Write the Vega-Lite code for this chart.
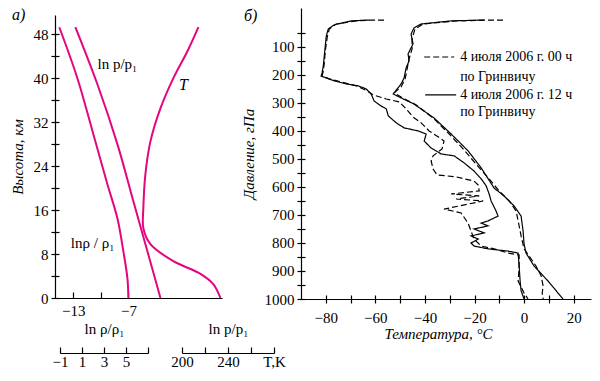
{
  "$schema": "https://vega.github.io/schema/vega-lite/v6.json",
  "padding": {"left": 10, "top": 7, "right": 5, "bottom": 5},
  "spacing": -45,
  "config": {
    "font": "Liberation Serif",
    "view": {"stroke": null},
    "axis": {"domainColor": "black", "tickColor": "black", "labelColor": "black", "titleColor": "black", "labelFontSize": 15, "titleFontSize": 15, "titleFontWeight": "normal", "titleFontStyle": "italic", "grid": false, "labelFont": "Liberation Serif", "titleFont": "Liberation Serif", "domainWidth": 1.2, "tickWidth": 1.2, "labelFlush": false},
    "title": {"font": "Liberation Serif", "fontSize": 16, "fontWeight": "normal", "fontStyle": "italic", "color": "black"}
  },
  "hconcat": [
    {
      "bounds": "flush",
      "spacing": 0,
      "vconcat": [
        {
          "width": 10,
          "height": 7,
          "data": {"values": [{"z": 0}]},
          "mark": {"type": "point", "opacity": 0},
          "encoding": {}
        },
        {
          "width": 167,
          "height": 283,
          "title": {"text": "а)", "anchor": "start", "frame": "group", "offset": 0, "dx": -43, "dy": 16, "baseline": "middle"},
          "layer": [
            {
              "data": {"values": [
                {"c": "rho", "x": -14.53, "h": 49.27}, {"c": "rho", "x": -12.56, "h": 40.0}, {"c": "rho", "x": -10.82, "h": 29.8}, {"c": "rho", "x": -9.29, "h": 20.7}, {"c": "rho", "x": -8.2, "h": 14.5}, {"c": "rho", "x": -7.55, "h": 8.5}, {"c": "rho", "x": -7.11, "h": 3.6}, {"c": "rho", "x": -7.0, "h": 0},
                {"c": "p", "x": -12.78, "h": 49.3}, {"c": "p", "x": -10.38, "h": 38.9}, {"c": "p", "x": -8.2, "h": 28.0}, {"c": "p", "x": -6.46, "h": 17.6}, {"c": "p", "x": -4.93, "h": 8.5}, {"c": "p", "x": -3.51, "h": 0},
                {"c": "T", "x": 0.63, "h": 49.3}, {"c": "T", "x": -0.57, "h": 44.9}, {"c": "T", "x": -2.1, "h": 40.0}, {"c": "T", "x": -3.51, "h": 34.5}, {"c": "T", "x": -4.6, "h": 28.5}, {"c": "T", "x": -5.15, "h": 22.5}, {"c": "T", "x": -5.37, "h": 16.4}, {"c": "T", "x": -5.37, "h": 12.7}, {"c": "T", "x": -4.6, "h": 9.8}, {"c": "T", "x": -2.1, "h": 6.7}, {"c": "T", "x": 0.85, "h": 4.4}, {"c": "T", "x": 2.27, "h": 2.5}, {"c": "T", "x": 3.03, "h": 0}
              ]},
              "mark": {"type": "line", "color": "#e4067e", "strokeWidth": 2, "interpolate": "catmull-rom"},
              "encoding": {
                "x": {"field": "x", "type": "quantitative", "scale": {"domain": [-15, 3.2], "nice": false, "zero": false},
                      "axis": {"orient": "bottom", "values": [-13, -10, -7], "labelExpr": "datum.value == -10 ? '' : datum.label", "tickSize": -6, "labelPadding": 11, "title": null}},
                "y": {"field": "h", "type": "quantitative", "scale": {"domain": [0, 51.5], "nice": false, "zero": false},
                      "axis": {"orient": "left", "values": [0, 4, 8, 12, 16, 20, 24, 28, 32, 36, 40, 44, 48], "labelExpr": "datum.value % 8 == 0 ? datum.label : ''", "tickSize": 4, "labelPadding": 3, "title": "Высота,  км", "titlePadding": 8}},
                "detail": {"field": "c"},
                "order": {"value": null}
              }
            },
            {
              "data": {"values": [
                {"label": "ln p/p₁", "x": -8.2, "h": 42.5},
                {"label": "lnρ / ρ₁", "x": -10.9, "h": 10.0}
              ]},
              "mark": {"type": "text", "fontSize": 15, "color": "black", "font": "Liberation Serif"},
              "encoding": {
                "x": {"field": "x", "type": "quantitative", "axis": null},
                "y": {"field": "h", "type": "quantitative",
                      "axis": {"orient": "left", "values": [0, 4, 8, 12, 16, 20, 24, 28, 32, 36, 40, 44, 48], "tickSize": -4, "labels": false, "domain": false, "title": null}},
                "text": {"field": "label"}
              }
            },
            {
              "data": {"values": [
                {"label": "T", "x": -1.0, "h": 38.7}
              ]},
              "mark": {"type": "text", "fontSize": 16, "fontStyle": "italic", "color": "black", "font": "Liberation Serif"},
              "encoding": {
                "x": {"field": "x", "type": "quantitative", "axis": null},
                "y": {"field": "h", "type": "quantitative", "axis": null},
                "text": {"field": "label"}
              }
            }
          ],
          "resolve": {"axis": {"x": "independent", "y": "independent"}}
        },
        {
          "bounds": "flush",
          "spacing": 39,
          "hconcat": [
            {
              "width": 88,
              "height": 55,
              "data": {"values": [{"v": -1}, {"v": 7}]},
              "mark": {"type": "point", "opacity": 0},
              "encoding": {
                "x": {"field": "v", "type": "quantitative", "scale": {"domain": [-1, 7], "nice": false, "zero": false},
                      "axis": {"orient": "bottom", "position": 5, "values": [-1, 1, 3, 5, 7], "labelExpr": "datum.value == 7 ? '' : datum.label", "tickSize": -6, "labelPadding": 7, "title": "ln ρ/ρ₁", "titleFontStyle": "normal", "titleY": -20, "titleBaseline": "alphabetic"}}
              }
            },
            {
              "width": 92,
              "height": 55,
              "data": {"values": [{"k": 200}, {"k": 280}]},
              "mark": {"type": "point", "opacity": 0},
              "encoding": {
                "x": {"field": "k", "type": "quantitative", "scale": {"domain": [200, 280], "nice": false, "zero": false},
                      "axis": {"orient": "bottom", "values": [200, 220, 240, 260, 280], "labelExpr": "datum.value == 280 ? 'T,K' : ((datum.value == 220 || datum.value == 260) ? '' : datum.label)", "tickSize": -6, "labelPadding": 7, "title": "ln p/p₁", "titleFontStyle": "normal", "titleY": -20, "titleBaseline": "alphabetic"}}
              }
            }
          ]
        }
      ]
    },
    {
      "width": 290,
      "height": 291,
      "title": {"text": "б)", "anchor": "start", "frame": "group", "offset": 0, "dx": -57, "dy": 24, "baseline": "middle"},
      "layer": [
        {
          "data": {"values": [
            {"k": "T12", "s": "12", "t": -16.1, "p": 4}, {"k": "T12", "s": "12", "t": -29.4, "p": 7}, {"k": "T12", "s": "12", "t": -41.5, "p": 18}, {"k": "T12", "s": "12", "t": -44.4, "p": 32}, {"k": "T12", "s": "12", "t": -45.6, "p": 54}, {"k": "T12", "s": "12", "t": -44.8, "p": 89}, {"k": "T12", "s": "12", "t": -46.8, "p": 125}, {"k": "T12", "s": "12", "t": -46.4, "p": 150}, {"k": "T12", "s": "12", "t": -47.6, "p": 175}, {"k": "T12", "s": "12", "t": -48.4, "p": 211}, {"k": "T12", "s": "12", "t": -49.6, "p": 232}, {"k": "T12", "s": "12", "t": -52.8, "p": 268}, {"k": "T12", "s": "12", "t": -49.6, "p": 282}, {"k": "T12", "s": "12", "t": -44.4, "p": 304}, {"k": "T12", "s": "12", "t": -36.3, "p": 354}, {"k": "T12", "s": "12", "t": -29.4, "p": 411}, {"k": "T12", "s": "12", "t": -22.6, "p": 471}, {"k": "T12", "s": "12", "t": -17.3, "p": 532}, {"k": "T12", "s": "12", "t": -12.1, "p": 604}, {"k": "T12", "s": "12", "t": -8.1, "p": 632}, {"k": "T12", "s": "12", "t": -4.0, "p": 668}, {"k": "T12", "s": "12", "t": -1.2, "p": 704}, {"k": "T12", "s": "12", "t": -0.4, "p": 757}, {"k": "T12", "s": "12", "t": 0, "p": 804}, {"k": "T12", "s": "12", "t": 0.8, "p": 836}, {"k": "T12", "s": "12", "t": 4.0, "p": 882}, {"k": "T12", "s": "12", "t": 9.7, "p": 936}, {"k": "T12", "s": "12", "t": 15.7, "p": 1000},
            {"k": "T00", "s": "00", "t": -8.5, "p": 4}, {"k": "T00", "s": "00", "t": -14.1, "p": 4}, {"k": "T00", "s": "00", "t": -27.4, "p": 7}, {"k": "T00", "s": "00", "t": -40.7, "p": 18}, {"k": "T00", "s": "00", "t": -44.0, "p": 36}, {"k": "T00", "s": "00", "t": -45.2, "p": 71}, {"k": "T00", "s": "00", "t": -45.2, "p": 107}, {"k": "T00", "s": "00", "t": -46.4, "p": 143}, {"k": "T00", "s": "00", "t": -47.2, "p": 179}, {"k": "T00", "s": "00", "t": -48.0, "p": 214}, {"k": "T00", "s": "00", "t": -49.6, "p": 243}, {"k": "T00", "s": "00", "t": -52.4, "p": 264}, {"k": "T00", "s": "00", "t": -49.6, "p": 279}, {"k": "T00", "s": "00", "t": -43.5, "p": 307}, {"k": "T00", "s": "00", "t": -36.3, "p": 357}, {"k": "T00", "s": "00", "t": -30.2, "p": 411}, {"k": "T00", "s": "00", "t": -24.6, "p": 464}, {"k": "T00", "s": "00", "t": -19.4, "p": 518}, {"k": "T00", "s": "00", "t": -14.1, "p": 571}, {"k": "T00", "s": "00", "t": -10.1, "p": 614}, {"k": "T00", "s": "00", "t": -6.0, "p": 650}, {"k": "T00", "s": "00", "t": -3.2, "p": 686}, {"k": "T00", "s": "00", "t": -2.4, "p": 721}, {"k": "T00", "s": "00", "t": -1.2, "p": 775}, {"k": "T00", "s": "00", "t": 0, "p": 821}, {"k": "T00", "s": "00", "t": 2.0, "p": 846}, {"k": "T00", "s": "00", "t": 4.8, "p": 882}, {"k": "T00", "s": "00", "t": 6.9, "p": 918}, {"k": "T00", "s": "00", "t": 7.7, "p": 954}, {"k": "T00", "s": "00", "t": 7.3, "p": 979}, {"k": "T00", "s": "00", "t": 7.7, "p": 1000},
            {"k": "D12", "s": "12", "t": -62.5, "p": 4}, {"k": "D12", "s": "12", "t": -69.8, "p": 7}, {"k": "D12", "s": "12", "t": -76.6, "p": 21}, {"k": "D12", "s": "12", "t": -79.0, "p": 36}, {"k": "D12", "s": "12", "t": -79.8, "p": 61}, {"k": "D12", "s": "12", "t": -80.2, "p": 96}, {"k": "D12", "s": "12", "t": -80.6, "p": 132}, {"k": "D12", "s": "12", "t": -81.0, "p": 168}, {"k": "D12", "s": "12", "t": -81.5, "p": 193}, {"k": "D12", "s": "12", "t": -81.9, "p": 204}, {"k": "D12", "s": "12", "t": -76.6, "p": 221}, {"k": "D12", "s": "12", "t": -71.8, "p": 232}, {"k": "D12", "s": "12", "t": -66.9, "p": 239}, {"k": "D12", "s": "12", "t": -63.7, "p": 250}, {"k": "D12", "s": "12", "t": -61.7, "p": 268}, {"k": "D12", "s": "12", "t": -60.5, "p": 293}, {"k": "D12", "s": "12", "t": -57.7, "p": 311}, {"k": "D12", "s": "12", "t": -55.6, "p": 321}, {"k": "D12", "s": "12", "t": -54.8, "p": 346}, {"k": "D12", "s": "12", "t": -51.6, "p": 371}, {"k": "D12", "s": "12", "t": -48.4, "p": 389}, {"k": "D12", "s": "12", "t": -42.7, "p": 400}, {"k": "D12", "s": "12", "t": -39.5, "p": 411}, {"k": "D12", "s": "12", "t": -40.3, "p": 436}, {"k": "D12", "s": "12", "t": -37.5, "p": 461}, {"k": "D12", "s": "12", "t": -33.5, "p": 482}, {"k": "D12", "s": "12", "t": -28.2, "p": 489}, {"k": "D12", "s": "12", "t": -24.2, "p": 514}, {"k": "D12", "s": "12", "t": -20.2, "p": 543}, {"k": "D12", "s": "12", "t": -17.3, "p": 571}, {"k": "D12", "s": "12", "t": -15.3, "p": 596}, {"k": "D12", "s": "12", "t": -14.1, "p": 625}, {"k": "D12", "s": "12", "t": -13.3, "p": 650}, {"k": "D12", "s": "12", "t": -11.3, "p": 686}, {"k": "D12", "s": "12", "t": -10.5, "p": 704}, {"k": "D12", "s": "12", "t": -14.5, "p": 721}, {"k": "D12", "s": "12", "t": -17.3, "p": 729}, {"k": "D12", "s": "12", "t": -14.5, "p": 739}, {"k": "D12", "s": "12", "t": -20.2, "p": 750}, {"k": "D12", "s": "12", "t": -16.1, "p": 764}, {"k": "D12", "s": "12", "t": -21.4, "p": 775}, {"k": "D12", "s": "12", "t": -18.5, "p": 786}, {"k": "D12", "s": "12", "t": -21.4, "p": 800}, {"k": "D12", "s": "12", "t": -20.2, "p": 811}, {"k": "D12", "s": "12", "t": -14.5, "p": 821}, {"k": "D12", "s": "12", "t": -6.5, "p": 829}, {"k": "D12", "s": "12", "t": -2.4, "p": 836}, {"k": "D12", "s": "12", "t": -2.0, "p": 882}, {"k": "D12", "s": "12", "t": -1.6, "p": 936}, {"k": "D12", "s": "12", "t": -1.2, "p": 971}, {"k": "D12", "s": "12", "t": 0, "p": 1000},
            {"k": "D00", "s": "00", "t": -56.5, "p": 4}, {"k": "D00", "s": "00", "t": -61.7, "p": 4}, {"k": "D00", "s": "00", "t": -67.7, "p": 7}, {"k": "D00", "s": "00", "t": -75.8, "p": 18}, {"k": "D00", "s": "00", "t": -78.6, "p": 36}, {"k": "D00", "s": "00", "t": -79.4, "p": 64}, {"k": "D00", "s": "00", "t": -80.2, "p": 114}, {"k": "D00", "s": "00", "t": -80.6, "p": 157}, {"k": "D00", "s": "00", "t": -81.0, "p": 186}, {"k": "D00", "s": "00", "t": -81.5, "p": 204}, {"k": "D00", "s": "00", "t": -78.6, "p": 214}, {"k": "D00", "s": "00", "t": -73.8, "p": 225}, {"k": "D00", "s": "00", "t": -67.7, "p": 239}, {"k": "D00", "s": "00", "t": -63.3, "p": 257}, {"k": "D00", "s": "00", "t": -60.9, "p": 271}, {"k": "D00", "s": "00", "t": -55.6, "p": 286}, {"k": "D00", "s": "00", "t": -50.4, "p": 296}, {"k": "D00", "s": "00", "t": -47.6, "p": 321}, {"k": "D00", "s": "00", "t": -44.8, "p": 350}, {"k": "D00", "s": "00", "t": -41.5, "p": 371}, {"k": "D00", "s": "00", "t": -38.3, "p": 400}, {"k": "D00", "s": "00", "t": -34.7, "p": 421}, {"k": "D00", "s": "00", "t": -32.3, "p": 436}, {"k": "D00", "s": "00", "t": -33.1, "p": 464}, {"k": "D00", "s": "00", "t": -36.7, "p": 489}, {"k": "D00", "s": "00", "t": -37.5, "p": 507}, {"k": "D00", "s": "00", "t": -36.7, "p": 536}, {"k": "D00", "s": "00", "t": -35.1, "p": 557}, {"k": "D00", "s": "00", "t": -27.4, "p": 564}, {"k": "D00", "s": "00", "t": -20.2, "p": 579}, {"k": "D00", "s": "00", "t": -18.5, "p": 593}, {"k": "D00", "s": "00", "t": -18.1, "p": 614}, {"k": "D00", "s": "00", "t": -29.4, "p": 625}, {"k": "D00", "s": "00", "t": -18.1, "p": 632}, {"k": "D00", "s": "00", "t": -27.4, "p": 643}, {"k": "D00", "s": "00", "t": -16.5, "p": 650}, {"k": "D00", "s": "00", "t": -32.3, "p": 679}, {"k": "D00", "s": "00", "t": -25.4, "p": 693}, {"k": "D00", "s": "00", "t": -22.6, "p": 729}, {"k": "D00", "s": "00", "t": -21.4, "p": 757}, {"k": "D00", "s": "00", "t": -20.2, "p": 786}, {"k": "D00", "s": "00", "t": -17.3, "p": 811}, {"k": "D00", "s": "00", "t": -12.1, "p": 821}, {"k": "D00", "s": "00", "t": -6.5, "p": 836}, {"k": "D00", "s": "00", "t": -2.0, "p": 843}, {"k": "D00", "s": "00", "t": -2.0, "p": 889}, {"k": "D00", "s": "00", "t": -2.4, "p": 936}, {"k": "D00", "s": "00", "t": 0, "p": 979}, {"k": "D00", "s": "00", "t": 1.6, "p": 1000}
          ]},
          "mark": {"type": "line", "color": "black", "strokeWidth": 1.2},
          "encoding": {
            "x": {"field": "t", "type": "quantitative", "scale": {"domain": [-90, 27], "nice": false, "zero": false},
                  "axis": {"orient": "bottom", "values": [-80, -70, -60, -50, -40, -30, -20, -10, 0, 10, 20], "labelExpr": "datum.value % 20 == 0 ? datum.label : ''", "tickSize": 4, "labelPadding": 7, "title": "Температура, °C", "titlePadding": 1, "titleX": 137}},
            "y": {"field": "p", "type": "quantitative", "scale": {"domain": [-39, 1000], "reverse": true, "nice": false, "zero": false},
                  "axis": {"orient": "left", "format": "d", "values": [50, 100, 150, 200, 250, 300, 350, 400, 450, 500, 550, 600, 650, 700, 750, 800, 850, 900, 950, 1000], "labelExpr": "datum.value % 100 == 0 ? datum.label : ''", "tickSize": 4, "labelPadding": 3, "title": "Давление,  гПа", "titlePadding": 8}},
            "detail": {"field": "k"},
            "strokeDash": {"field": "s", "type": "nominal", "scale": {"domain": ["00", "12"], "range": [[6, 3], [1, 0]]}, "legend": null},
            "order": {"value": null}
          }
        },
        {
          "data": {"values": [
            {"s": "00", "t": -40.3, "t2": -28.2, "p": 136},
            {"s": "12", "t": -39.9, "t2": -27.4, "p": 271}
          ]},
          "mark": {"type": "rule", "color": "black", "strokeWidth": 1.2},
          "encoding": {
            "x": {"field": "t", "type": "quantitative",
                  "axis": {"orient": "bottom", "values": [-80, -70, -60, -50, -40, -30, -20, -10, 0, 10, 20], "tickSize": -4, "labels": false, "domain": false, "title": null}},
            "x2": {"field": "t2"},
            "y": {"field": "p", "type": "quantitative",
                  "axis": {"orient": "left", "values": [50, 100, 150, 200, 250, 300, 350, 400, 450, 500, 550, 600, 650, 700, 750, 800, 850, 900, 950, 1000], "tickSize": -4, "labels": false, "domain": false, "title": null}},
            "strokeDash": {"field": "s", "type": "nominal", "legend": null}
          }
        },
        {
          "data": {"values": [
            {"label": "4 июля 2006 г. 00 ч", "t": -25.8, "p": 136},
            {"label": "по Гринвичу", "t": -25.8, "p": 207},
            {"label": "4 июля 2006 г. 12 ч", "t": -25.8, "p": 271},
            {"label": "по Гринвичу", "t": -25.8, "p": 332}
          ]},
          "mark": {"type": "text", "align": "left", "baseline": "middle", "fontSize": 14, "color": "black", "font": "Liberation Serif"},
          "encoding": {
            "x": {"field": "t", "type": "quantitative", "axis": null},
            "y": {"field": "p", "type": "quantitative", "axis": null},
            "text": {"field": "label"}
          }
        }
      ],
      "resolve": {"axis": {"x": "independent", "y": "independent"}}
    }
  ]
}
